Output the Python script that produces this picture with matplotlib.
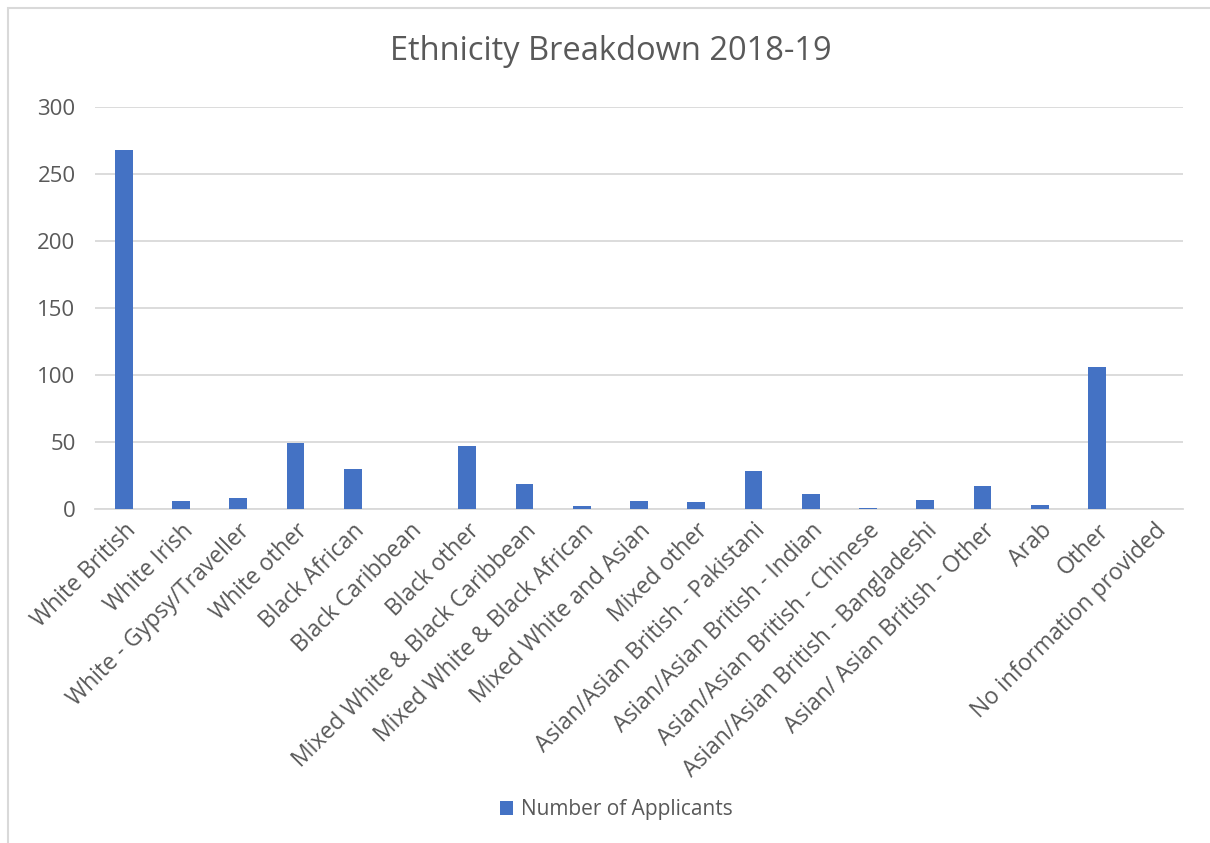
import matplotlib
matplotlib.use("Agg")
import matplotlib.pyplot as plt
from matplotlib.patches import Rectangle

categories = ["White British", "White Irish", "White - Gypsy/Traveller", "White other",
              "Black African", "Black Caribbean", "Black other",
              "Mixed White & Black Caribbean", "Mixed White & Black African",
              "Mixed White and Asian", "Mixed other", "Asian/Asian British - Pakistani",
              "Asian/Asian British - Indian", "Asian/Asian British - Chinese",
              "Asian/Asian British - Bangladeshi", "Asian/ Asian British - Other",
              "Arab", "Other", "No information provided"]
applicants = [268, 6, 8, 49, 30, 0, 47, 19, 2, 6, 5, 28, 11, 1, 7, 17, 3, 106, 0]
yticks = [0, 50, 100, 150, 200, 250, 300]

plt.rcParams['font.family'] = ['Open Sans', 'DejaVu Sans']
text_color = "#595959"
bar_color = "#4472C4"
grid_color = "#D9D9D9"

fig = plt.figure(figsize=(12.1, 8.43), dpi=100)
fig.patches.append(Rectangle((8/1210, -0.01), 1.02, 1 - 8/843 + 0.01, transform=fig.transFigure,
                             fill=False, edgecolor="#D9D9D9", linewidth=1.5))

ax = fig.add_axes([95/1210, 1 - 509/843, (1183 - 95)/1210, (509 - 107)/843])
x = list(range(len(categories)))
ax.bar(x, applicants, width=0.31, color=bar_color, zorder=3, label="Number of Applicants")
ax.set_xlim(-0.5, len(categories) - 0.5)
ax.set_ylim(0, 300)
ax.set_yticks(yticks)
ax.yaxis.grid(True, color=grid_color, linewidth=1.3, zorder=0)
ax.set_xticks(x)
ax.set_xticklabels(categories, rotation=45, ha="right", rotation_mode="anchor",
                   fontsize=16.5, color=text_color)
ax.tick_params(axis='y', labelsize=16, labelcolor=text_color, length=0, pad=14)
ax.tick_params(axis='x', length=0, pad=7)
for s in ["top", "right", "left"]:
    ax.spines[s].set_visible(False)
ax.spines["bottom"].set_color(grid_color)
ax.spines["bottom"].set_linewidth(1.3)

fig.text(611/1210, 1 - 52/843, "Ethnicity Breakdown 2018-19", ha="center", va="center",
         fontsize=23.5, color=text_color)

fig.legend(loc="center", bbox_to_anchor=(616/1210, 1 - 810/843), frameon=False,
           fontsize=15, labelcolor=text_color, handlelength=0.65, handleheight=0.65,
           handletextpad=0.35)

fig.savefig("out.png", dpi=100, facecolor="white")
